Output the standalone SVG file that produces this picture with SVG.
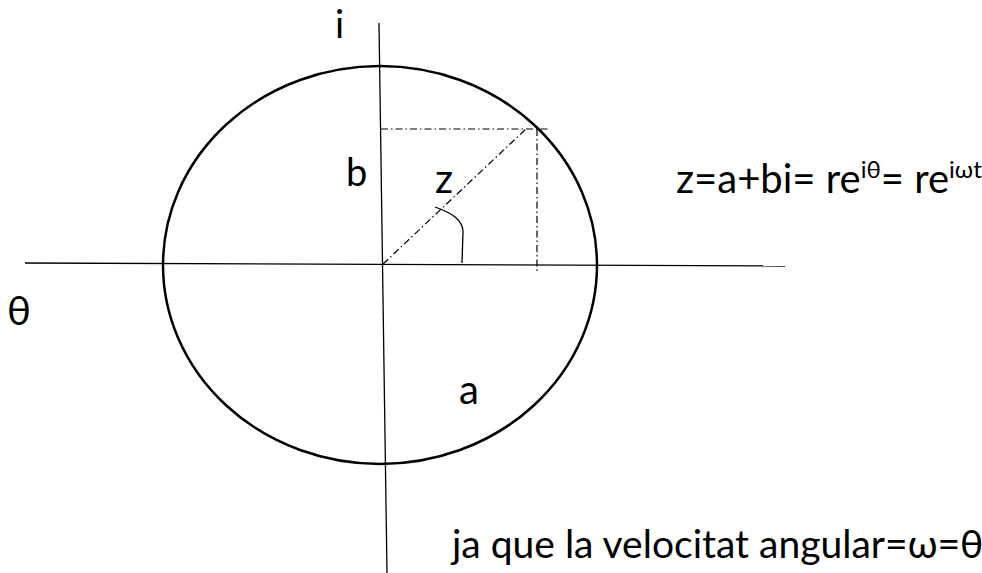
<svg xmlns="http://www.w3.org/2000/svg" width="982" height="573" viewBox="0 0 982 573">
<style>
.t{font-family:Lato,"Liberation Sans",sans-serif;fill:#000}
.ax{stroke:#000;stroke-width:1.3;fill:none}
.dd{stroke:#000;stroke-width:1.2;fill:none;stroke-dasharray:7,3,1.5,3}
</style>
<rect width="982" height="573" fill="#fff"/>
<g id="axes">
<line class="ax" x1="25" y1="263" x2="785" y2="266"/>
<line class="ax" x1="379" y1="23" x2="387" y2="573"/>
</g>
<g id="circle"><ellipse cx="380" cy="265" rx="217" ry="199" fill="none" stroke="#000" stroke-width="2.5"/></g>
<g id="connectors">
<line class="dd" x1="381" y1="129" x2="548" y2="129"/>
<line class="dd" x1="537" y1="129" x2="537" y2="273"/>
<line class="dd" x1="383" y1="264" x2="527" y2="128"/>
<path class="ax" d="M435,207 C452,213 463,220 463,232 L462,263"/>
</g>
<g id="labels">
<text class="t" x="335" y="38" font-size="38">i</text>
<text class="t" x="346" y="186" font-size="38">b</text>
<text class="t" x="435" y="193" font-size="40">z</text>
<text class="t" x="7" y="325" font-size="40">θ</text>
<text class="t" x="459" y="404" font-size="40">a</text>
<text class="t" x="676" y="193" font-size="40">z=a+bi= re<tspan font-size="24" dy="-15">iθ</tspan><tspan dy="15">= re</tspan><tspan font-size="24" dy="-15">iωt</tspan></text>
<text class="t" x="452" y="558" font-size="39">ja que la velocitat angular=ω=θ</text>
</g>
</svg>
